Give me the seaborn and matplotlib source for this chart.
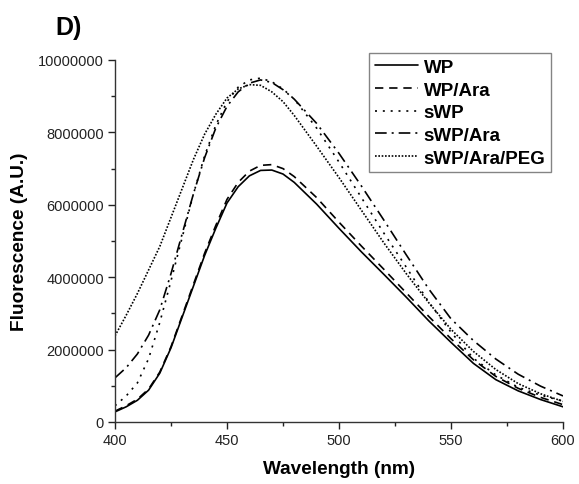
import matplotlib
matplotlib.use("Agg")
import matplotlib.pyplot as plt
import matplotlib.ticker as mticker
import numpy as np
import pandas as pd
import seaborn as sns

# ---- data ----
wavelength = [400, 405, 410, 415, 420, 425, 430, 435, 440, 445, 450, 455, 460, 465, 470,
              475, 480, 490, 500, 510, 520, 530, 540, 550, 560, 570, 580, 590, 600]

wp = [0.28, 0.42, 0.60, 0.88, 1.35, 2.05, 2.90, 3.75, 4.60, 5.35, 6.05, 6.50, 6.80, 6.95, 6.96,
      6.85, 6.62, 6.02, 5.35, 4.70, 4.08, 3.45, 2.80, 2.20, 1.62, 1.17, 0.86, 0.62, 0.42]
wp_ara = [0.30, 0.45, 0.63, 0.91, 1.38, 2.08, 2.94, 3.80, 4.66, 5.43, 6.15, 6.62, 6.93, 7.09, 7.11,
          7.00, 6.78, 6.20, 5.52, 4.86, 4.22, 3.57, 2.92, 2.30, 1.72, 1.26, 0.93, 0.68, 0.48]
swp = [0.45, 0.72, 1.08, 1.75, 2.75, 3.90, 5.10, 6.30, 7.35, 8.20, 8.85, 9.25, 9.45, 9.50, 9.40,
       9.20, 8.92, 8.12, 7.18, 6.20, 5.22, 4.28, 3.32, 2.48, 1.76, 1.30, 0.96, 0.74, 0.58]
swp_ara = [1.22, 1.50, 1.88, 2.40, 3.10, 4.10, 5.20, 6.30, 7.30, 8.12, 8.72, 9.12, 9.36, 9.45, 9.38,
           9.18, 8.92, 8.25, 7.42, 6.52, 5.58, 4.62, 3.68, 2.85, 2.25, 1.74, 1.32, 0.99, 0.72]
swp_ara_peg = [2.38, 2.95, 3.55, 4.20, 4.85, 5.65, 6.45, 7.25, 7.95, 8.50, 8.95, 9.20, 9.32, 9.30, 9.12,
               8.85, 8.47, 7.62, 6.75, 5.85, 4.95, 4.10, 3.30, 2.56, 1.95, 1.45, 1.06, 0.78, 0.57]

series_names = ["WP", "WP/Ara", "sWP", "sWP/Ara", "sWP/Ara/PEG"]
series_values = [wp, wp_ara, swp, swp_ara, swp_ara_peg]

frames = []
for name, vals in zip(series_names, series_values):
    frames.append(pd.DataFrame({"Wavelength": wavelength,
                                "Fluorescence": np.array(vals) * 1e6,
                                "Sample": name}))
df = pd.concat(frames, ignore_index=True)

# ---- style ----
sns.set_style("ticks")
plt.rcParams["font.family"] = ["Liberation Sans", "DejaVu Sans"]
plt.rcParams["text.color"] = "black"
plt.rcParams["axes.labelcolor"] = "black"

fig = plt.figure(figsize=(5.79, 4.85), dpi=100)
ax = fig.add_axes([115 / 579, 1 - 423 / 485, (563 - 115) / 579, (423 - 61) / 485])

dashes = {
    "WP": "",
    "WP/Ara": (5, 3.5),
    "sWP": (1.2, 3.5),
    "sWP/Ara": (7, 3, 1.2, 3),
    "sWP/Ara/PEG": (1, 1),
}
sns.lineplot(data=df, x="Wavelength", y="Fluorescence", hue="Sample", style="Sample",
             hue_order=series_names, style_order=series_names,
             palette=["black"] * 5, dashes=dashes, linewidth=1.2, ax=ax, legend=True)

ax.set_xlim(400, 600)
ax.set_ylim(0, 10000000)
ax.xaxis.set_major_locator(mticker.MultipleLocator(50))
ax.xaxis.set_minor_locator(mticker.MultipleLocator(25))
ax.yaxis.set_major_locator(mticker.MultipleLocator(2000000))
ax.yaxis.set_minor_locator(mticker.MultipleLocator(1000000))
ax.yaxis.set_major_formatter(mticker.FuncFormatter(lambda v, p: f"{int(round(v))}"))
ax.tick_params(axis="both", which="major", direction="out", length=5, width=1,
               labelsize=10.5, colors="#222222", labelcolor="#222222", pad=3)
ax.tick_params(axis="both", which="minor", direction="out", length=3, width=1, colors="#222222")
for s in ["top", "right"]:
    ax.spines[s].set_visible(False)
for s in ["left", "bottom"]:
    ax.spines[s].set_color("#333333")
    ax.spines[s].set_linewidth(1.0)

ax.set_xlabel("Wavelength (nm)", fontsize=13.7, fontweight="bold", color="black")
ax.set_ylabel("Fluorescence (A.U.)", fontsize=13.7, fontweight="bold", color="black")
ax.xaxis.set_label_coords((339 - 115) / 448, (423 - 470) / 362)
ax.yaxis.set_label_coords((20 - 115) / 448, 0.5)
ax.xaxis.label.set_va("center")
ax.yaxis.label.set_va("center")

handles, labels = ax.get_legend_handles_labels()
leg = ax.legend(handles, labels, loc="upper right",
                bbox_to_anchor=(551 / 579, 1 - 54 / 485), bbox_transform=fig.transFigure,
                borderaxespad=0, frameon=True, fancybox=False,
                prop={"weight": "bold", "size": 13.5},
                handlelength=2.3, handletextpad=0.3, labelspacing=0.3, borderpad=0.3)
leg.get_frame().set_edgecolor("#666666")
leg.get_frame().set_linewidth(1.0)
for t in leg.get_texts():
    t.set_color("black")

fig.text(55 / 579, 1 - 35 / 485, "D)", fontsize=18, fontweight="bold", ha="left",
         va="baseline", color="black")

fig.savefig("out.png", dpi=100)
